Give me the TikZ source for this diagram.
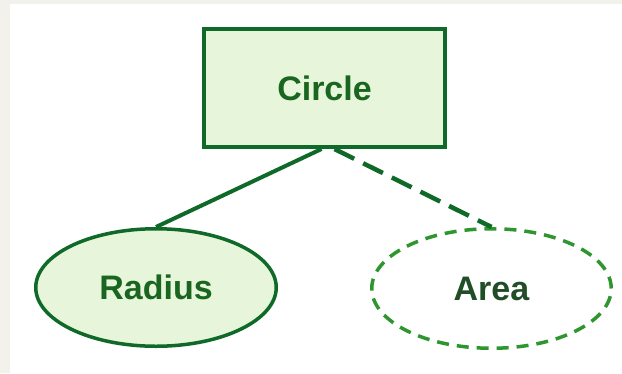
\documentclass[tikz,border=0pt]{standalone}
\usepackage{fontspec}
\setmainfont{Liberation Sans}
\usetikzlibrary{shapes.geometric}

\definecolor{paper}{HTML}{F3F1EC}
\definecolor{edgegreen}{HTML}{0F6A2A}
\definecolor{dashgreen}{HTML}{2F962F}
\definecolor{fillgreen}{HTML}{E7F5DA}
\definecolor{labelgreen}{HTML}{1A6620}
\definecolor{labeldark}{HTML}{214D27}

\tikzset{
  label font/.style={font=\bfseries\fontsize{34}{34}\selectfont},
  entitybox/.style={draw=edgegreen, line width=4pt, fill=fillgreen,
    rectangle, inner sep=0pt, minimum width=241pt, minimum height=118pt,
    label font, text=labelgreen},
  attrsolid/.style={draw=edgegreen, line width=3.5pt, fill=fillgreen,
    ellipse, inner sep=0pt, minimum width=240.5pt, minimum height=117.5pt,
    label font, text=labelgreen},
  attrdashed/.style={draw=dashgreen, line width=3.5pt, fill=white,
    ellipse, inner sep=0pt, minimum width=239.5pt, minimum height=119.5pt,
    dash pattern=on 12pt off 8pt, label font, text=labeldark},
  solidlink/.style={draw=edgegreen, line width=4pt},
  dashedlink/.style={draw=edgegreen, line width=4.5pt, dash pattern=on 22pt off 10pt}
}

\begin{document}
\begin{tikzpicture}[x=1pt, y=-1pt]
  \useasboundingbox (0,0) rectangle (622,373);
  % page background with a white sheet
  \fill[paper] (0,0) rectangle (622,373);
  \fill[white] (10,4) rectangle (622,373);

  % entity and its attributes
  \node[entitybox] (circle) at (324.5,88) {Circle};
  \node[attrsolid] (radius) at (156,287.5) {Radius};
  \node[attrdashed] (area) at (491.5,288.5) {Area};

  % links
  \draw[solidlink] ([xshift=-3pt]circle.south) -- (radius.north);
  \draw[dashedlink] ([xshift=10pt]circle.south) -- (area.north);
\end{tikzpicture}
\end{document}
